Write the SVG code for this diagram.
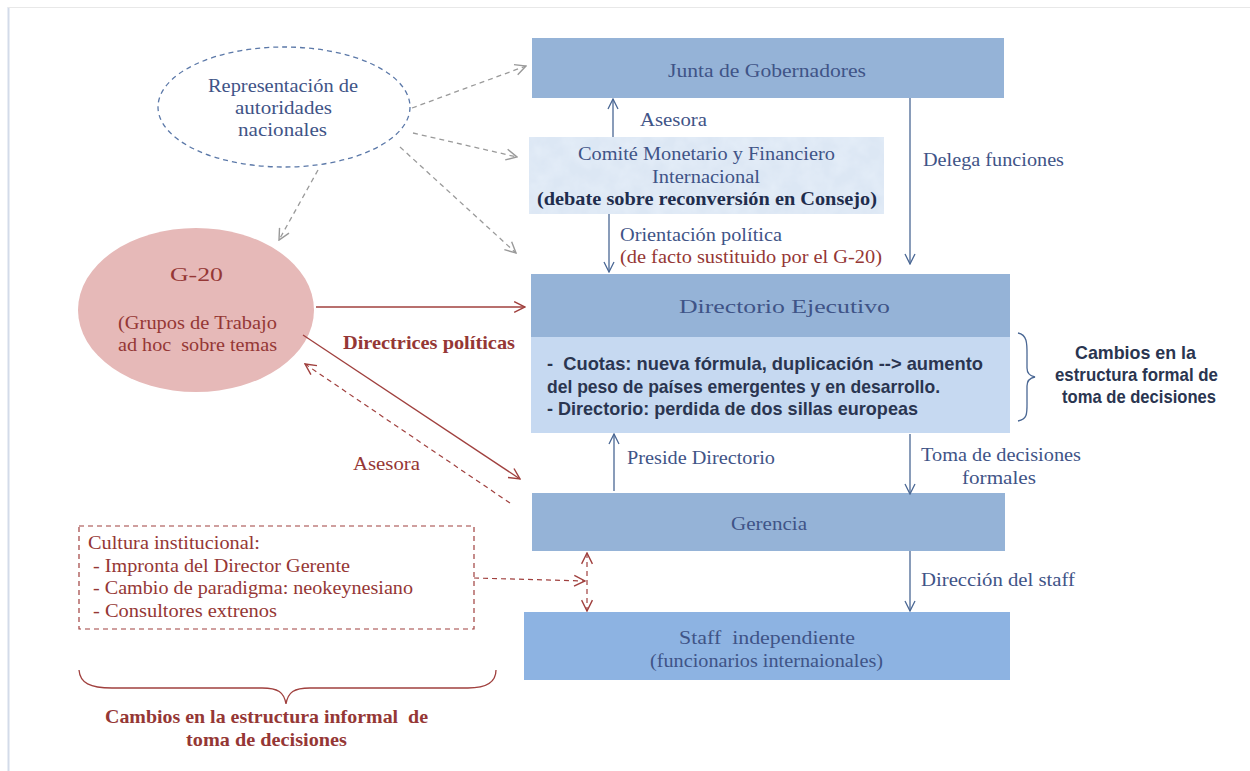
<svg xmlns="http://www.w3.org/2000/svg" width="1250" height="771" viewBox="0 0 1250 771">
<defs>
<style>
text{white-space:pre;}
.serif{font-family:"Liberation Serif","DejaVu Serif",serif;font-size:19.5px;}
.blue{fill:#3f5487;}
.red{fill:#953735;}
.narrow{font-family:"Liberation Sans Narrow","Liberation Sans",sans-serif;font-weight:bold;font-size:19px;fill:#2a3550;}
.box{fill:#95b3d7;}
.ab{stroke:#4a6794;stroke-width:1.3;fill:none;}
.ar{stroke:#a0403e;stroke-width:1.3;fill:none;}
.ard{stroke:#a0403e;stroke-width:1.2;fill:none;stroke-dasharray:5 4;}
.ag{stroke:#9a9a9a;stroke-width:1.3;fill:none;stroke-dasharray:5 4;}
</style>
<filter id="tex" x="0" y="0" width="100%" height="100%">
<feTurbulence type="fractalNoise" baseFrequency="0.06" numOctaves="3" seed="4" result="n"/>
<feColorMatrix in="n" type="matrix" values="0 0 0 0 0.80  0 0 0 0 0.87  0 0 0 0 0.95  0 0 0 1.2 -0.35" result="c"/>
<feComposite in="c" in2="SourceGraphic" operator="in"/>
</filter>
<marker id="mb" viewBox="0 0 12 12" refX="11" refY="6" markerWidth="12" markerHeight="12" markerUnits="userSpaceOnUse" orient="auto-start-reverse"><path d="M1,1 L11,6 L1,11" fill="none" stroke="#4a6794" stroke-width="1.3"/></marker>
<marker id="mr" viewBox="0 0 12 12" refX="11" refY="6" markerWidth="13" markerHeight="13" markerUnits="userSpaceOnUse" orient="auto-start-reverse"><path d="M1,1 L11,6 L1,11" fill="none" stroke="#a0403e" stroke-width="1.3"/></marker>
<marker id="mg" viewBox="0 0 12 12" refX="11" refY="6" markerWidth="13" markerHeight="13" markerUnits="userSpaceOnUse" orient="auto-start-reverse"><path d="M1,1 L11,6 L1,11" fill="none" stroke="#9a9a9a" stroke-width="1.3"/></marker>
</defs>
<rect width="1250" height="771" fill="#ffffff"/>
<line x1="8.5" y1="7" x2="8.5" y2="771" stroke="#d3dbe9" stroke-width="2"/>
<line x1="8" y1="7.5" x2="1250" y2="7.5" stroke="#e8e8e8" stroke-width="1"/>

<g id="junta">
<rect class="box" x="532" y="38" width="472" height="60"/>
<text class="serif blue" x="668" y="77" textLength="198" lengthAdjust="spacingAndGlyphs">Junta de Gobernadores</text>
</g>

<g id="cmfi">
<rect x="529" y="137" width="355" height="77" fill="#dce7f4"/>
<rect x="529" y="137" width="355" height="77" fill="#fff" filter="url(#tex)"/>
<text class="serif blue" x="578" y="160" textLength="257" lengthAdjust="spacingAndGlyphs">Comité Monetario y Financiero</text>
<text class="serif blue" x="652" y="183" textLength="108" lengthAdjust="spacingAndGlyphs">Internacional</text>
<text class="serif" x="537" y="205" font-weight="bold" fill="#1f2d4d" textLength="340" lengthAdjust="spacingAndGlyphs">(debate sobre reconversión en Consejo)</text>
</g>

<g id="directorio">
<rect class="box" x="531" y="274" width="479" height="63"/>
<rect x="531" y="337" width="479" height="96" fill="#c6d9f1"/>
<text class="serif blue" x="679" y="313" textLength="211" lengthAdjust="spacingAndGlyphs">Directorio Ejecutivo</text>
<text class="narrow" x="547" y="370" textLength="436" lengthAdjust="spacingAndGlyphs">-  Cuotas: nueva fórmula, duplicación --&gt; aumento</text>
<text class="narrow" x="547" y="393" textLength="393" lengthAdjust="spacingAndGlyphs">del peso de países emergentes y en desarrollo.</text>
<text class="narrow" x="547" y="415" textLength="371" lengthAdjust="spacingAndGlyphs">- Directorio: perdida de dos sillas europeas</text>
</g>

<g id="formal-brace">
<path d="M1018,333 C1028,335 1027,345 1027,358 L1027,368 C1027,374 1030,376 1035,377 C1030,378 1027,380 1027,386 L1027,400 C1027,413 1028,419 1018,421" fill="none" stroke="#4a6794" stroke-width="1.3"/>
<text class="narrow" x="1075" y="359" fill="#1f2d4d" textLength="121" lengthAdjust="spacingAndGlyphs">Cambios en la</text>
<text class="narrow" x="1055" y="381" fill="#1f2d4d" textLength="163" lengthAdjust="spacingAndGlyphs">estructura formal de</text>
<text class="narrow" x="1062" y="403" fill="#1f2d4d" textLength="154" lengthAdjust="spacingAndGlyphs">toma de decisiones</text>
</g>

<g id="gerencia">
<rect class="box" x="532" y="493" width="473" height="58"/>
<text class="serif blue" x="731" y="530" textLength="76" lengthAdjust="spacingAndGlyphs">Gerencia</text>
</g>

<g id="staff">
<rect x="524" y="612" width="486" height="68" fill="#8db3e2"/>
<text class="serif blue" x="679" y="644" textLength="176" lengthAdjust="spacingAndGlyphs">Staff  independiente</text>
<text class="serif blue" x="650" y="667" textLength="233" lengthAdjust="spacingAndGlyphs">(funcionarios internaionales)</text>
</g>

<g id="representacion">
<ellipse cx="284" cy="107" rx="126" ry="60" fill="none" stroke="#5b78a8" stroke-width="1.3" stroke-dasharray="5 4"/>
<text class="serif blue" x="208" y="92" textLength="150" lengthAdjust="spacingAndGlyphs">Representación de</text>
<text class="serif blue" x="235" y="114" textLength="97" lengthAdjust="spacingAndGlyphs">autoridades</text>
<text class="serif blue" x="238" y="136" textLength="89" lengthAdjust="spacingAndGlyphs">nacionales</text>
</g>

<g id="g20">
<ellipse cx="196" cy="310" rx="118" ry="82" fill="#e6b9b8"/>
<text class="serif red" x="170" y="281" font-size="24" textLength="53" lengthAdjust="spacingAndGlyphs">G-20</text>
<text class="serif red" x="118" y="329" textLength="159" lengthAdjust="spacingAndGlyphs">(Grupos de Trabajo</text>
<text class="serif red" x="118" y="351" textLength="159" lengthAdjust="spacingAndGlyphs">ad hoc  sobre temas</text>
</g>

<g id="cultura">
<rect x="79" y="526" width="395" height="103" fill="none" stroke="#a0403e" stroke-width="1.2" stroke-dasharray="5 4"/>
<text class="serif red" x="88" y="549" textLength="172" lengthAdjust="spacingAndGlyphs">Cultura institucional:</text>
<text class="serif red" x="93" y="572" textLength="257" lengthAdjust="spacingAndGlyphs">- Impronta del Director Gerente</text>
<text class="serif red" x="93" y="594" textLength="320" lengthAdjust="spacingAndGlyphs">- Cambio de paradigma: neokeynesiano</text>
<text class="serif red" x="93" y="617" textLength="184" lengthAdjust="spacingAndGlyphs">- Consultores extrenos</text>
</g>

<g id="informal-brace">
<path d="M79,670 C80,683 90,688 112,688 L262,688 C278,688 284,692 286,704 C288,692 294,688 310,688 L468,688 C486,688 496,683 496,670" fill="none" stroke="#a0403e" stroke-width="1.3"/>
<text class="serif red" x="105" y="723" font-weight="bold" textLength="323" lengthAdjust="spacingAndGlyphs">Cambios en la estructura informal  de</text>
<text class="serif red" x="186" y="746" font-weight="bold" textLength="161" lengthAdjust="spacingAndGlyphs">toma de decisiones</text>
</g>

<g id="connectors">
<line class="ab" x1="613" y1="137" x2="613" y2="99" marker-end="url(#mb)"/>
<line class="ab" x1="609" y1="214" x2="609" y2="272" marker-end="url(#mb)"/>
<line class="ab" x1="910" y1="98" x2="910" y2="264" marker-end="url(#mb)"/>
<line class="ab" x1="614" y1="491" x2="614" y2="434" marker-end="url(#mb)"/>
<line class="ab" x1="910" y1="434" x2="910" y2="494" marker-end="url(#mb)"/>
<line class="ab" x1="910" y1="551" x2="910" y2="611" marker-end="url(#mb)"/>
<line class="ag" x1="412" y1="108" x2="526" y2="66" marker-end="url(#mg)"/>
<line class="ag" x1="413" y1="133" x2="517" y2="157" marker-end="url(#mg)"/>
<line class="ag" x1="400" y1="147" x2="516" y2="253" marker-end="url(#mg)"/>
<line class="ag" x1="318" y1="170" x2="279" y2="240" marker-end="url(#mg)"/>
<line class="ar" x1="316" y1="307" x2="525" y2="307" marker-end="url(#mr)"/>
<line class="ar" x1="303" y1="335" x2="520" y2="479" marker-end="url(#mr)"/>
<line class="ard" x1="510" y1="503" x2="305" y2="364" marker-end="url(#mr)"/>
<line class="ard" x1="474" y1="578" x2="585" y2="581" marker-end="url(#mr)"/>
<line class="ard" x1="587" y1="553" x2="587" y2="611" marker-start="url(#mr)" marker-end="url(#mr)"/>
<text class="serif blue" x="640" y="126" textLength="67" lengthAdjust="spacingAndGlyphs">Asesora</text>
<text class="serif blue" x="620" y="241" textLength="162" lengthAdjust="spacingAndGlyphs">Orientación política</text>
<text class="serif red" x="620" y="263" textLength="262" lengthAdjust="spacingAndGlyphs">(de facto sustituido por el G-20)</text>
<text class="serif blue" x="923" y="166" textLength="141" lengthAdjust="spacingAndGlyphs">Delega funciones</text>
<text class="serif" x="343" y="349" font-weight="bold" fill="#953735" textLength="172" lengthAdjust="spacingAndGlyphs">Directrices políticas</text>
<text class="serif red" x="353" y="470" textLength="67" lengthAdjust="spacingAndGlyphs">Asesora</text>
<text class="serif blue" x="627" y="464" textLength="148" lengthAdjust="spacingAndGlyphs">Preside Directorio</text>
<text class="serif blue" x="921" y="461" textLength="160" lengthAdjust="spacingAndGlyphs">Toma de decisiones</text>
<text class="serif blue" x="962" y="484" textLength="74" lengthAdjust="spacingAndGlyphs">formales</text>
<text class="serif blue" x="921" y="586" textLength="154" lengthAdjust="spacingAndGlyphs">Dirección del staff</text>
</g>
</svg>
